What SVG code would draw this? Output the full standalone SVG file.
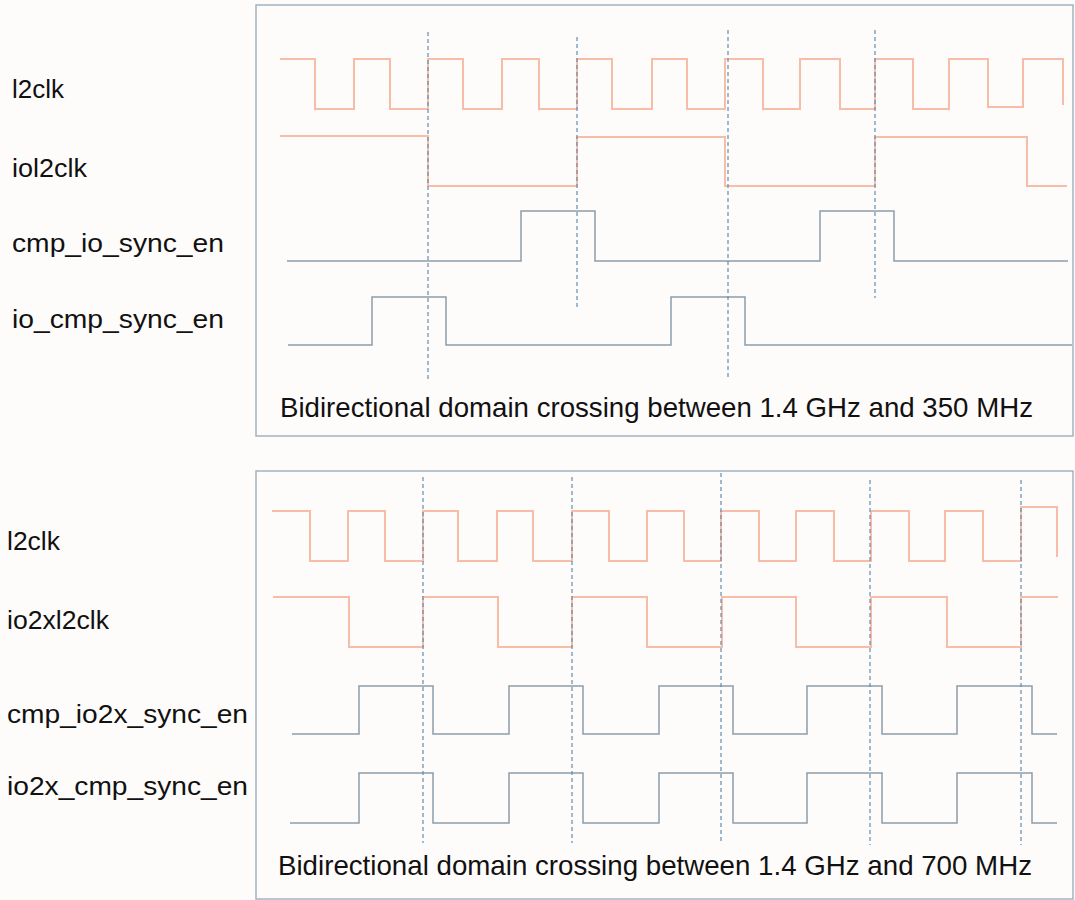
<svg xmlns="http://www.w3.org/2000/svg" width="1075" height="900" viewBox="0 0 1075 900">
<style>
.frame{fill:none;stroke:#a3b3c0;stroke-width:1.5}
.clk{fill:none;stroke:#f7bda7;stroke-width:2}
.sig{fill:none;stroke:#8d9dab;stroke-width:1.5}
.dash{fill:none;stroke:#5f8db3;stroke-width:1.2;stroke-dasharray:4,3}
.lbl{font-family:"Liberation Sans",Arial,sans-serif;font-size:25px;fill:#111}
.cap{font-family:"Liberation Sans",Arial,sans-serif;font-size:28px;fill:#111}
</style>
<rect x="0" y="0" width="1075" height="900" fill="#fefcfb"/>
<g id="panel-top">
<rect class="frame" x="256" y="5" width="817" height="431"/>
<g id="top-labels">
<text class="lbl" x="12" y="98" textLength="52" lengthAdjust="spacingAndGlyphs">l2clk</text>
<text class="lbl" x="12" y="177" textLength="75" lengthAdjust="spacingAndGlyphs">iol2clk</text>
<text class="lbl" x="12" y="252" textLength="212" lengthAdjust="spacingAndGlyphs">cmp_io_sync_en</text>
<text class="lbl" x="12" y="328" textLength="212" lengthAdjust="spacingAndGlyphs">io_cmp_sync_en</text>
</g>
<g id="top-waves">
<path id="top-l2clk" class="clk" d="M280,59 H315 V109 H354 V59 H390 V109 H428 V59 H463 V109 H502 V59 H539 V109 H577 V59 H612 V109 H652 V59 H687 V109 H725 V59 H763 V109 H800 V59 H840 V109 H875 V59 H913 V109 H949 V59 H988 V107 H1023 V59 H1063 V105"/>
<path id="top-iol2clk" class="clk" d="M280,136 H428 V186 H577 V137 H725 V186 H875 V137 H1027 V186 H1067"/>
<path id="top-cmp-io" class="sig" d="M287,261 H521 V211 H595 V261 H820 V211 H894 V261 H1068"/>
<path id="top-io-cmp" class="sig" d="M288,345 H372 V297 H446 V345 H671 V297 H745 V345 H1072"/>
</g>
<g id="top-markers">
<line class="dash" x1="428" y1="32" x2="428" y2="380"/>
<line class="dash" x1="577" y1="37" x2="577" y2="307"/>
<line class="dash" x1="728" y1="30" x2="728" y2="378"/>
<line class="dash" x1="875" y1="30" x2="875" y2="298"/>
</g>
<text class="cap" x="280" y="417" textLength="753" lengthAdjust="spacingAndGlyphs">Bidirectional domain crossing between 1.4 GHz and 350 MHz</text>
</g>
<g id="panel-bottom">
<rect class="frame" x="256" y="471" width="817" height="428"/>
<g id="bottom-labels">
<text class="lbl" x="7" y="550" textLength="53" lengthAdjust="spacingAndGlyphs">l2clk</text>
<text class="lbl" x="7" y="629" textLength="102" lengthAdjust="spacingAndGlyphs">io2xl2clk</text>
<text class="lbl" x="7" y="723" textLength="241" lengthAdjust="spacingAndGlyphs">cmp_io2x_sync_en</text>
<text class="lbl" x="7" y="795" textLength="241" lengthAdjust="spacingAndGlyphs">io2x_cmp_sync_en</text>
</g>
<g id="bottom-waves">
<path id="bot-l2clk" class="clk" d="M272,511 H310 V561 H348 V511 H385 V561 H423 V511 H458 V561 H497 V511 H533 V561 H572 V511 H609 V561 H647 V511 H684 V561 H721 V511 H759 V561 H796 V511 H834 V561 H871 V511 H909 V561 H945 V511 H983 V561 H1021 V507 H1057 V557"/>
<path id="bot-io2xl2clk" class="clk" d="M273,597 H349 V647 H423 V597 H498 V647 H572 V597 H647 V647 H722 V597 H796 V647 H871 V597 H947 V647 H1021 V597 H1058"/>
<path id="bot-cmp-io2x" class="sig" d="M292,734 H359 V686 H433 V734 H509 V686 H583 V734 H659 V686 H733 V734 H807 V686 H882 V734 H957 V686 H1032 V734 H1057"/>
<path id="bot-io2x-cmp" class="sig" d="M290,823 H359 V773 H433 V823 H509 V773 H583 V823 H659 V773 H733 V823 H807 V773 H882 V823 H957 V773 H1032 V823 H1057"/>
</g>
<g id="bottom-markers">
<line class="dash" x1="423" y1="477" x2="423" y2="843"/>
<line class="dash" x1="572" y1="477" x2="572" y2="843"/>
<line class="dash" x1="721" y1="473" x2="721" y2="843"/>
<line class="dash" x1="870" y1="480" x2="870" y2="845"/>
<line class="dash" x1="1021" y1="480" x2="1021" y2="845"/>
</g>
<text class="cap" x="278" y="875" textLength="754" lengthAdjust="spacingAndGlyphs">Bidirectional domain crossing between 1.4 GHz and 700 MHz</text>
</g>
</svg>
